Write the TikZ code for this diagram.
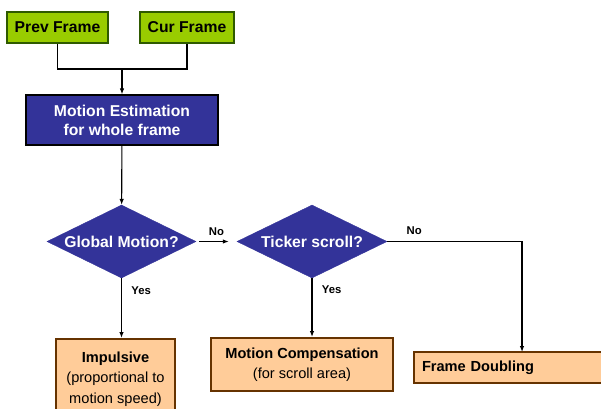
\documentclass[tikz,border=0pt]{standalone}
\usepackage{fontspec}
\setmainfont{Liberation Sans}
\usepackage{tikz}
\usetikzlibrary{arrows.meta,shapes.geometric,positioning}

\definecolor{framegreen}{HTML}{99CC00}
\definecolor{framegreenline}{HTML}{2F5A00}
\definecolor{deepblue}{HTML}{333399}
\definecolor{peach}{HTML}{FFCC99}
\definecolor{brownline}{HTML}{663300}

\tikzset{
    inbox/.style={rectangle,draw=framegreenline,fill=framegreen,line width=1.2pt,
        font=\fontsize{15.7}{18}\selectfont\bfseries,inner sep=0pt},
    estbox/.style={rectangle,draw=black,fill=deepblue,text=white,line width=1.2pt,
        font=\fontsize{15.7}{19}\selectfont\bfseries,align=center,inner sep=0pt},
    decide/.style={diamond,fill=deepblue,draw=deepblue,text=white,aspect=2,inner sep=0pt,
        font=\fontsize{15.7}{18}\selectfont\bfseries},
    outbox/.style={rectangle,draw=brownline,fill=peach,line width=2pt,
        font=\fontsize{14.6}{20.5}\selectfont,align=center,inner sep=0pt},
    flow/.style={line width=1.1pt},
    answer/.style={font=\fontsize{11.3}{13}\selectfont\bfseries}
}

\begin{document}
\begin{tikzpicture}[x=1pt,y=-1pt,>={Latex[length=6pt,width=4.5pt]}]
            \useasboundingbox (0,0) rectangle (601,408);
            \clip (0,0) rectangle (601,408);

            % inputs
            \node[inbox,minimum width=101pt,minimum height=31pt] (prev) at (57.5,27.5) {Prev Frame};
            \node[inbox,minimum width=94pt,minimum height=31pt] (cur) at (187,27.5) {Cur Frame};
            \node[estbox,minimum width=192pt,minimum height=50pt] (me) at (122,120) {Motion Estimation\\for whole frame};

            % decisions
            \node[decide,minimum width=149pt,minimum height=73pt] (gm) at (121.5,241.5) {Global Motion?};
            \node[decide,minimum width=150pt,minimum height=73pt] (ts) at (312,241.5) {Ticker scroll?};

            % results
            \node[outbox,minimum width=119pt,minimum height=80pt] (imp) at (115.5,379)
                {\textbf{Impulsive}\\(proportional to\\motion speed)};
            \node[outbox,minimum width=182pt,minimum height=53pt] (mc) at (302,364.5)
                {\textbf{Motion Compensation}\\(for scroll area)};
            \node[outbox,anchor=west,minimum width=230pt,minimum height=31pt,align=left,
                text width=214pt,inner xsep=8pt] (fd) at (413,367.5) {\textbf{Frame Doubling}};

            \coordinate (join) at (122,69);
            \coordinate (fdtop) at (522,352);

            \begin{scope}[flow]
                \draw (prev) |- (join);
                \draw (join) -| (cur);
                \draw[->] (join) -- (me);
                \draw[->] (me) -- (gm);
                \draw[->,shorten <=3pt,shorten >=8pt] (gm) -- (ts)
                    node[answer,midway,above=2pt] {No};
                \draw[->] (ts) -| (fdtop)
                    node[answer,pos=0.1,above=3pt] {No};
                \draw[->] (gm) -- (gm |- imp.north)
                    node[answer,pos=0.2,right=6pt] {Yes};
                \draw[->] (ts) -- (ts |- mc.north)
                    node[answer,pos=0.2,right=6pt] {Yes};
            \end{scope}
\end{tikzpicture}
\end{document}
